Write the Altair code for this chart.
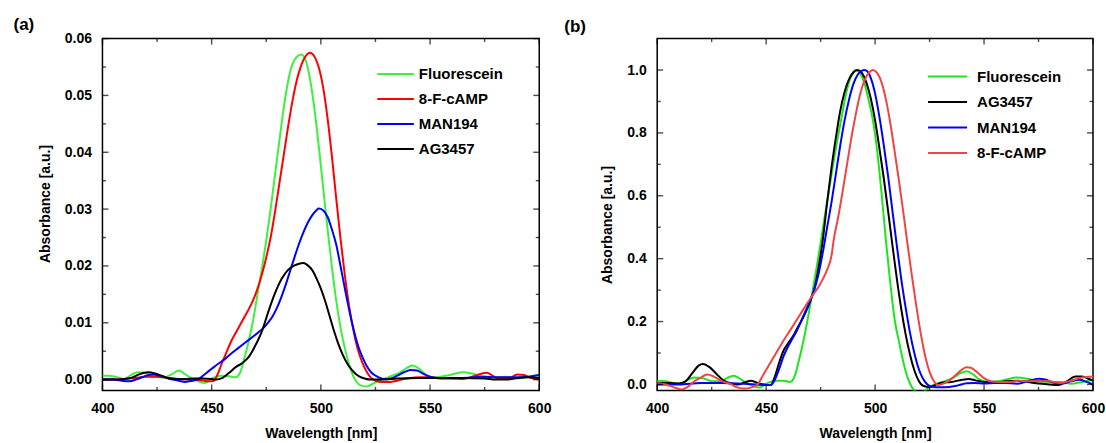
import altair as alt
import pandas as pd

FONT = "Liberation Sans"

# ---------------- Panel (a) data ----------------
A_FLU_WL = [400, 403, 406, 410, 413, 416, 420, 424, 428, 432, 435, 438, 441, 444, 447, 450, 454, 458, 461, 463, 465, 467, 469, 471, 473, 475, 477, 479, 481, 483, 485, 487, 489, 491, 493, 495, 497, 499, 501, 503, 505, 507, 509, 511, 513, 515, 517, 519, 521, 523, 525, 528, 532, 536, 539, 542, 545, 548, 552, 556, 560, 565, 570, 575, 580, 585, 590, 595, 600]
A_FLU_V = [0.0007, 0.0007, 0.0005, 0.0001, 0.0008, 0.0013, 0.0011, 0.0005, 0.0004, 0.0010, 0.0016, 0.0009, 0.0002, -0.0003, -0.0006, 0.0002, 0.0007, 0.0006, 0.0004, 0.0012, 0.0038, 0.0068, 0.0105, 0.0150, 0.0195, 0.0245, 0.0300, 0.0360, 0.0420, 0.0478, 0.0525, 0.0555, 0.0568, 0.0572, 0.0562, 0.0530, 0.0478, 0.0412, 0.0340, 0.0268, 0.0200, 0.0140, 0.0092, 0.0055, 0.0026, 0.0005, -0.0007, -0.0011, -0.0012, -0.0009, -0.0005, 0.0000, 0.0006, 0.0012, 0.0020, 0.0025, 0.0019, 0.0009, 0.0004, 0.0006, 0.0009, 0.0013, 0.0010, 0.0005, 0.0004, 0.0005, 0.0002, 0.0005, 0.0008]

A_CAMP_WL = [400, 405, 410, 415, 420, 425, 430, 435, 440, 445, 449, 451, 453, 455, 457, 459, 461, 463, 465, 467, 469, 471, 473, 475, 477, 479, 481, 483, 485, 487, 489, 491, 493, 495, 497, 499, 501, 503, 505, 507, 509, 511, 513, 515, 517, 519, 521, 523, 525, 528, 532, 535, 538, 541, 545, 550, 555, 560, 565, 570, 573, 576, 579, 582, 586, 590, 593, 596, 600]
A_CAMP_V = [0.0000, 0.0000, 0.0001, 0.0003, 0.0005, 0.0005, 0.0003, 0.0001, 0.0000, -0.0001, -0.0003, -0.0002, 0.0012, 0.0032, 0.0050, 0.0068, 0.0082, 0.0096, 0.0110, 0.0124, 0.0140, 0.0160, 0.0185, 0.0215, 0.0250, 0.0295, 0.0345, 0.0395, 0.0445, 0.0490, 0.0527, 0.0553, 0.0569, 0.0575, 0.0569, 0.0550, 0.0515, 0.0462, 0.0395, 0.0320, 0.0248, 0.0183, 0.0128, 0.0085, 0.0052, 0.0030, 0.0014, 0.0003, -0.0002, -0.0004, -0.0004, -0.0002, 0.0001, 0.0003, 0.0004, 0.0004, 0.0003, 0.0003, 0.0001, 0.0006, 0.0010, 0.0012, 0.0006, 0.0001, 0.0002, 0.0009, 0.0008, 0.0003, 0.0000]

A_MAN_WL = [400, 405, 409, 412, 416, 420, 423, 427, 431, 435, 438, 441, 444, 447, 450, 453, 456, 459, 462, 465, 468, 471, 474, 476, 478, 480, 482, 484, 486, 488, 490, 492, 494, 496, 498, 499, 501, 503, 505, 507, 509, 511, 513, 515, 517, 519, 521, 523, 526, 529, 532, 535, 538, 541, 544, 547, 550, 555, 560, 565, 570, 575, 580, 585, 590, 595, 600]
A_MAN_V = [0.0000, 0.0000, -0.0002, -0.0003, 0.0001, 0.0007, 0.0009, 0.0006, 0.0001, -0.0002, -0.0004, -0.0002, 0.0001, 0.0010, 0.0019, 0.0028, 0.0036, 0.0046, 0.0055, 0.0064, 0.0073, 0.0082, 0.0092, 0.0101, 0.0112, 0.0127, 0.0146, 0.0168, 0.0192, 0.0216, 0.0239, 0.0259, 0.0276, 0.0289, 0.0298, 0.0301, 0.0298, 0.0287, 0.0265, 0.0238, 0.0200, 0.0160, 0.0122, 0.0088, 0.0060, 0.0040, 0.0024, 0.0013, 0.0005, 0.0001, 0.0002, 0.0007, 0.0013, 0.0017, 0.0016, 0.0010, 0.0005, 0.0002, 0.0002, 0.0003, 0.0004, 0.0005, 0.0004, 0.0004, 0.0004, 0.0005, 0.0008]

A_AG_WL = [400, 405, 410, 413, 416, 419, 421, 424, 427, 430, 434, 438, 442, 446, 450, 452, 455, 458, 461, 464, 467, 470, 473, 476, 479, 482, 485, 488, 490, 492, 494, 496, 498, 500, 502, 504, 506, 508, 510, 512, 514, 516, 518, 520, 523, 528, 535, 545, 555, 565, 575, 580, 585, 590, 595, 600]
A_AG_V = [0.0000, 0.0000, 0.0001, 0.0003, 0.0008, 0.0012, 0.0013, 0.0011, 0.0007, 0.0003, 0.0001, 0.0001, 0.0002, 0.0002, 0.0001, 0.0000, 0.0003, 0.0012, 0.0022, 0.0029, 0.0040, 0.0060, 0.0085, 0.0120, 0.0152, 0.0177, 0.0193, 0.0201, 0.0204, 0.0205, 0.0201, 0.0193, 0.0178, 0.0160, 0.0138, 0.0112, 0.0086, 0.0063, 0.0044, 0.0029, 0.0018, 0.0010, 0.0005, 0.0002, 0.0000, 0.0000, 0.0002, 0.0003, 0.0003, 0.0003, 0.0002, 0.0000, 0.0000, 0.0003, 0.0004, 0.0003]

# ---------------- Panel (b) data ----------------
B_FLU_WL = [400, 404, 408, 411, 414, 417, 421, 425, 429, 432, 435, 438, 441, 444, 447, 450, 454, 458, 461, 463, 465, 467, 469, 471, 473, 475, 477, 479, 481, 483, 485, 487, 489, 491, 493, 495, 497, 499, 501, 503, 505, 507, 509, 511, 513, 515, 517, 519, 521, 523, 525, 528, 532, 536, 539, 542, 545, 548, 552, 556, 560, 565, 570, 575, 580, 585, 590, 595, 600]
B_FLU_V = [0.012, 0.010, 0.004, 0.003, 0.015, 0.022, 0.020, 0.010, 0.010, 0.020, 0.028, 0.018, 0.005, -0.005, -0.010, 0.002, 0.012, 0.012, 0.008, 0.025, 0.075, 0.135, 0.205, 0.285, 0.365, 0.450, 0.540, 0.625, 0.710, 0.790, 0.865, 0.935, 0.980, 1.000, 0.990, 0.960, 0.905, 0.840, 0.740, 0.605, 0.455, 0.320, 0.205, 0.135, 0.070, 0.020, -0.010, -0.024, -0.027, -0.020, -0.008, 0.002, 0.010, 0.022, 0.035, 0.042, 0.032, 0.015, 0.008, 0.010, 0.015, 0.022, 0.018, 0.010, 0.008, 0.008, 0.002, 0.008, 0.015]

B_AG_WL = [400, 405, 410, 413, 416, 419, 421, 424, 427, 430, 434, 437, 440, 443, 446, 449, 452, 454, 456, 458, 460, 462, 464, 466, 468, 470, 472, 474, 476, 478, 480, 482, 484, 486, 488, 490, 492, 494, 496, 498, 500, 502, 504, 506, 508, 510, 512, 514, 516, 518, 520, 522, 525, 530, 535, 540, 543, 546, 550, 555, 560, 565, 570, 575, 580, 584, 588, 592, 595, 598, 600]
B_AG_V = [0.005, 0.005, 0.003, 0.010, 0.035, 0.060, 0.065, 0.055, 0.035, 0.015, 0.003, 0.000, 0.006, 0.012, 0.005, 0.000, -0.002, 0.025, 0.070, 0.108, 0.130, 0.150, 0.175, 0.200, 0.228, 0.260, 0.300, 0.370, 0.460, 0.580, 0.690, 0.785, 0.870, 0.930, 0.970, 0.992, 1.000, 0.990, 0.960, 0.910, 0.840, 0.750, 0.655, 0.550, 0.440, 0.335, 0.240, 0.160, 0.095, 0.045, 0.012, -0.004, -0.008, 0.005, 0.008, 0.015, 0.017, 0.013, 0.008, 0.006, 0.010, 0.012, 0.008, 0.003, 0.000, -0.002, 0.010, 0.025, 0.025, 0.018, 0.012]

B_MAN_WL = [400, 410, 420, 430, 440, 450, 452, 454, 456, 458, 460, 462, 464, 466, 468, 470, 472, 474, 476, 478, 480, 482, 484, 486, 488, 490, 492, 494, 495, 496, 498, 500, 502, 504, 506, 508, 510, 512, 514, 516, 518, 520, 522, 524, 526, 530, 534, 538, 542, 546, 550, 555, 560, 565, 570, 575, 578, 582, 586, 590, 594, 597, 600]
B_MAN_V = [0.000, 0.000, 0.005, 0.005, 0.002, -0.002, -0.002, 0.015, 0.050, 0.090, 0.120, 0.145, 0.170, 0.200, 0.232, 0.265, 0.300, 0.350, 0.420, 0.500, 0.580, 0.670, 0.760, 0.840, 0.905, 0.955, 0.985, 0.998, 1.000, 0.998, 0.975, 0.925, 0.850, 0.760, 0.660, 0.550, 0.440, 0.335, 0.245, 0.165, 0.100, 0.050, 0.018, 0.000, -0.007, -0.009, -0.008, -0.003, 0.004, 0.005, 0.003, 0.005, 0.005, 0.002, 0.010, 0.018, 0.016, 0.005, 0.003, 0.010, 0.015, 0.008, 0.000]

B_CAMP_WL = [400, 404, 408, 411, 414, 417, 420, 423, 426, 430, 434, 437, 440, 443, 446, 449, 452, 455, 458, 461, 464, 467, 470, 472, 474, 476, 478, 480, 481, 483, 485, 487, 489, 491, 493, 495, 497, 499, 501, 503, 505, 507, 509, 511, 513, 515, 517, 519, 521, 523, 525, 527, 529, 531, 534, 537, 540, 542, 544, 547, 550, 553, 557, 562, 566, 570, 575, 580, 585, 590, 595, 600]
B_CAMP_V = [0.005, 0.000, -0.010, -0.016, -0.008, 0.010, 0.022, 0.032, 0.025, 0.010, 0.000, -0.010, -0.013, -0.010, 0.000, 0.035, 0.070, 0.105, 0.140, 0.172, 0.205, 0.238, 0.270, 0.290, 0.310, 0.335, 0.365, 0.410, 0.460, 0.530, 0.610, 0.695, 0.780, 0.855, 0.920, 0.965, 0.990, 1.000, 0.990, 0.960, 0.905, 0.830, 0.740, 0.645, 0.545, 0.440, 0.340, 0.245, 0.160, 0.090, 0.040, 0.010, -0.002, 0.002, 0.012, 0.030, 0.048, 0.055, 0.053, 0.038, 0.020, 0.010, 0.008, 0.008, 0.012, 0.010, 0.012, 0.010, 0.005, 0.012, 0.022, 0.025]

A_SERIES = ["Fluorescein", "8-F-cAMP", "MAN194", "AG3457"]
A_COLORS = ["#3ef03e", "#ff0000", "#0000ff", "#000000"]
B_SERIES = ["Fluorescein", "AG3457", "MAN194", "8-F-cAMP"]
B_COLORS = ["#1ee61e", "#000000", "#0000ff", "#f04444"]

X_MAJOR = [400, 450, 500, 550, 600]
X_MINOR = [425, 475, 525, 575]
A_Y_MAJOR = [0.00, 0.01, 0.02, 0.03, 0.04, 0.05, 0.06]
A_Y_MINOR = [0.005, 0.015, 0.025, 0.035, 0.045, 0.055]
B_Y_MAJOR = [0.0, 0.2, 0.4, 0.6, 0.8, 1.0]
B_Y_MINOR = [0.1, 0.3, 0.5, 0.7, 0.9]

W_A, W_B, H = 437, 436, 352


def long_df(names, wls, vals):
    rows = []
    for k, (n, w, v) in enumerate(zip(names, wls, vals)):
        for a, b in zip(w, v):
            rows.append({"name": n, "wl": a, "v": b, "k": k})
    return pd.DataFrame(rows)


def panel(names, colors, wls, vals, W, ydom, yfmt, ymaj, ymin, leg, label, title_y):
    xs = alt.Scale(domain=[400, 600], nice=False, zero=False)
    ys = alt.Scale(domain=ydom, nice=False, zero=False)
    xaxis = alt.Axis(title="Wavelength [nm]", values=X_MAJOR, format="d",
                     labelFlush=False, labelPadding=11, titlePadding=11)
    yaxis = alt.Axis(title="Absorbance [a.u.]", values=ymaj, format=yfmt,
                     labelPadding=11, titlePadding=12, titleY=title_y)
    color = alt.Color("name:N", scale=alt.Scale(domain=names, range=colors), legend=None)
    df = long_df(names, wls, vals)
    lines = alt.Chart(df).mark_line(strokeWidth=2, interpolate="monotone", clip=True).encode(
        x=alt.X("wl:Q", scale=xs, axis=xaxis),
        y=alt.Y("v:Q", scale=ys, axis=yaxis),
        color=color,
        order=alt.Order("k:Q"),
    )
    layers = [lines]

    def xt(vals_, size, top):
        return alt.Chart(pd.DataFrame({"wl": vals_})).mark_tick(
            orient="vertical", size=size, thickness=1.4, color="black").encode(
            x=alt.X("wl:Q", scale=xs, axis=xaxis),
            y=alt.value(size / 2 if top else H - size / 2))

    def yt(vals_, size, right):
        return alt.Chart(pd.DataFrame({"v": vals_})).mark_tick(
            orient="horizontal", size=size, thickness=1.4, color="black").encode(
            y=alt.Y("v:Q", scale=ys, axis=yaxis),
            x=alt.value(W - size / 2 if right else size / 2))

    for top in (False, True):
        layers.append(xt(X_MAJOR, 6, top))
        layers.append(xt(X_MINOR, 3.5, top))
    for right in (False, True):
        layers.append(yt(ymaj, 6, right))
        layers.append(yt(ymin, 3.5, right))

    x1, x2, xtxt, y0, dy = leg
    for i, n in enumerate(names):
        one = alt.Chart(pd.DataFrame({"name": [n]}))
        layers.append(one.mark_rule(strokeWidth=2).encode(
            x=alt.value(x1), x2=alt.value(x2), y=alt.value(y0 + i * dy), color=color))
        layers.append(one.mark_text(align="left", baseline="middle", font=FONT, fontSize=15,
                                    fontWeight="bold", color="black").encode(
            x=alt.value(xtxt), y=alt.value(y0 + i * dy), text="name:N"))

    lab_x, lab_y, lab = label
    layers.append(alt.Chart(pd.DataFrame({"s": [lab]})).mark_text(
        align="left", baseline="middle", font=FONT, fontSize=17, fontWeight="bold", color="black").encode(
        x=alt.value(lab_x), y=alt.value(lab_y), text="s:N"))

    return alt.layer(*layers).properties(
        width=W, height=H, view=alt.ViewBackground(stroke="black", strokeWidth=1.5))


pa = panel(A_SERIES, A_COLORS,
           [A_FLU_WL, A_CAMP_WL, A_MAN_WL, A_AG_WL], [A_FLU_V, A_CAMP_V, A_MAN_V, A_AG_V],
           W_A, [-0.0019, 0.06], ".2f", A_Y_MAJOR, A_Y_MINOR,
           (275, 311.5, 316.5, 35.5, 25), (-89, -14, "(a)"), 165)
pb = panel(B_SERIES, B_COLORS,
           [B_FLU_WL, B_AG_WL, B_MAN_WL, B_CAMP_WL], [B_FLU_V, B_AG_V, B_MAN_V, B_CAMP_V],
           W_B, [-0.019, 1.1], ".1f", B_Y_MAJOR, B_Y_MINOR,
           (271, 310, 320, 38, 25.5), (-93, -12, "(b)"), 186)

chart = alt.hconcat(pa, pb, spacing=118, bounds="flush").resolve_scale(color="independent").properties(
    padding={"left": 12.5, "top": 14.5, "right": 0, "bottom": 0}, background="white"
).configure_view(stroke="black", strokeWidth=1.5).configure_axis(
    domain=False, ticks=False, grid=False,
    labelFont=FONT, labelFontSize=14, labelFontWeight="bold", labelColor="black",
    titleFont=FONT, titleFontSize=14, titleFontWeight="bold", titleColor="black",
    labelOverlap=False,
)

chart.save("out.html", embed_options={"renderer": "svg", "actions": False})
